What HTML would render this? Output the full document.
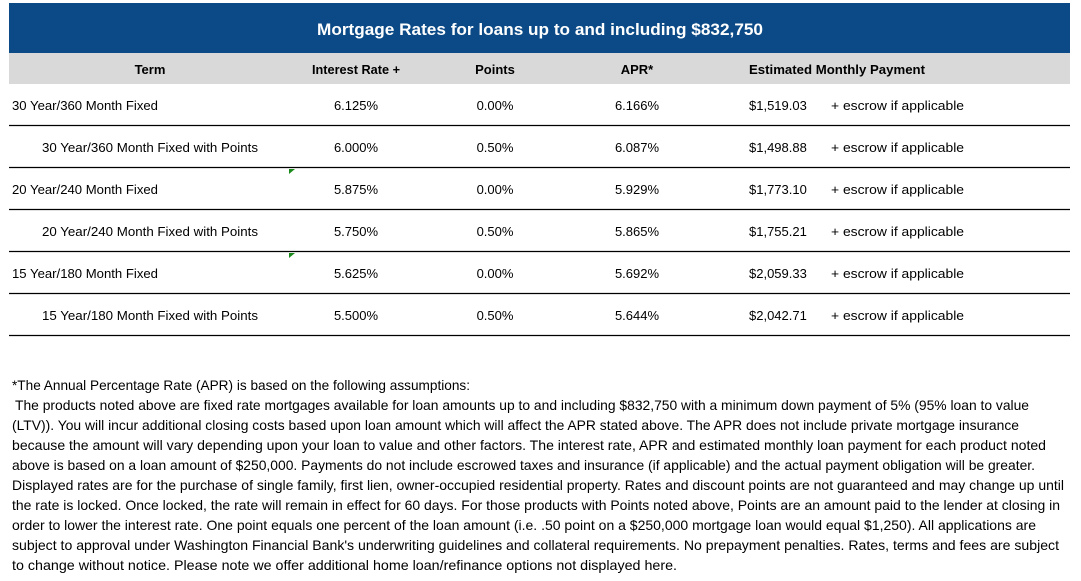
<!DOCTYPE html>
<html><head><meta charset="utf-8"><style>
html,body{margin:0;padding:0;background:#fff;}
svg{display:block;}
text{font-family:"Liberation Sans",sans-serif;fill:#000;}
</style></head><body>
<svg width="1081" height="581" viewBox="0 0 1081 581" xmlns="http://www.w3.org/2000/svg">
<rect x="9" y="3" width="1061" height="50" fill="#0b4a86"/>
<text x="540" y="35" text-anchor="middle" font-size="17" font-weight="bold" style="fill:#fff" textLength="446" lengthAdjust="spacingAndGlyphs">Mortgage Rates for loans up to and including $832,750</text>
<rect x="9" y="53" width="1061" height="31" fill="#d9d9d9"/>
<g font-size="13" font-weight="bold">
<text x="150" y="74" text-anchor="middle">Term</text>
<text x="356" y="74" text-anchor="middle" textLength="88" lengthAdjust="spacingAndGlyphs">Interest Rate +</text>
<text x="495" y="74" text-anchor="middle">Points</text>
<text x="637" y="74" text-anchor="middle">APR*</text>
<text x="749" y="74" textLength="176" lengthAdjust="spacingAndGlyphs">Estimated Monthly Payment</text>
</g>
<g stroke="#000" stroke-width="1.3">
<line x1="9" y1="125.5" x2="1070" y2="125.5"/>
<line x1="9" y1="167.5" x2="1070" y2="167.5"/>
<line x1="9" y1="209.5" x2="1070" y2="209.5"/>
<line x1="9" y1="251.5" x2="1070" y2="251.5"/>
<line x1="9" y1="293.5" x2="1070" y2="293.5"/>
<line x1="9" y1="335.5" x2="1070" y2="335.5"/>
</g>
<polygon points="289,169 295,169 289,174" fill="#1a8a1a"/>
<polygon points="289,253 295,253 289,258" fill="#1a8a1a"/>
<g font-size="13">
<text x="12" y="110" textLength="146" lengthAdjust="spacingAndGlyphs">30 Year/360 Month Fixed</text>
<text x="42" y="152" textLength="216" lengthAdjust="spacingAndGlyphs">30 Year/360 Month Fixed with Points</text>
<text x="12" y="194" textLength="146" lengthAdjust="spacingAndGlyphs">20 Year/240 Month Fixed</text>
<text x="42" y="236" textLength="216" lengthAdjust="spacingAndGlyphs">20 Year/240 Month Fixed with Points</text>
<text x="12" y="278" textLength="146" lengthAdjust="spacingAndGlyphs">15 Year/180 Month Fixed</text>
<text x="42" y="320" textLength="216" lengthAdjust="spacingAndGlyphs">15 Year/180 Month Fixed with Points</text>

<g text-anchor="middle">
<text x="356" y="110">6.125%</text><text x="495" y="110">0.00%</text><text x="637" y="110">6.166%</text>
<text x="356" y="152">6.000%</text><text x="495" y="152">0.50%</text><text x="637" y="152">6.087%</text>
<text x="356" y="194">5.875%</text><text x="495" y="194">0.00%</text><text x="637" y="194">5.929%</text>
<text x="356" y="236">5.750%</text><text x="495" y="236">0.50%</text><text x="637" y="236">5.865%</text>
<text x="356" y="278">5.625%</text><text x="495" y="278">0.00%</text><text x="637" y="278">5.692%</text>
<text x="356" y="320">5.500%</text><text x="495" y="320">0.50%</text><text x="637" y="320">5.644%</text>
</g>
<text x="749" y="110">$1,519.03</text><text x="831" y="110" textLength="133" lengthAdjust="spacingAndGlyphs">+ escrow if applicable</text>
<text x="749" y="152">$1,498.88</text><text x="831" y="152" textLength="133" lengthAdjust="spacingAndGlyphs">+ escrow if applicable</text>
<text x="749" y="194">$1,773.10</text><text x="831" y="194" textLength="133" lengthAdjust="spacingAndGlyphs">+ escrow if applicable</text>
<text x="749" y="236">$1,755.21</text><text x="831" y="236" textLength="133" lengthAdjust="spacingAndGlyphs">+ escrow if applicable</text>
<text x="749" y="278">$2,059.33</text><text x="831" y="278" textLength="133" lengthAdjust="spacingAndGlyphs">+ escrow if applicable</text>
<text x="749" y="320">$2,042.71</text><text x="831" y="320" textLength="133" lengthAdjust="spacingAndGlyphs">+ escrow if applicable</text>
</g>
<g font-size="14">
<text x="12" y="390" textLength="458" lengthAdjust="spacingAndGlyphs">*The Annual Percentage Rate (APR) is based on the following assumptions:</text>
<text x="15" y="410" textLength="1014" lengthAdjust="spacingAndGlyphs">The products noted above are fixed rate mortgages available for loan amounts up to and including $832,750  with a minimum down payment of 5% (95% loan to value</text>
<text x="12" y="430" textLength="1007" lengthAdjust="spacingAndGlyphs">(LTV)).  You will incur additional closing costs based upon loan amount which will affect the APR stated above. The APR does not include private mortgage insurance</text>
<text x="12" y="450" textLength="1034" lengthAdjust="spacingAndGlyphs">because the amount will vary depending upon your loan to value and other factors.   The interest rate, APR and estimated monthly loan payment for each product noted</text>
<text x="12" y="470" textLength="1023" lengthAdjust="spacingAndGlyphs">above is based on a loan amount of $250,000.  Payments do not include escrowed taxes and insurance (if applicable) and the actual payment obligation will be greater.</text>
<text x="12" y="490" textLength="1052" lengthAdjust="spacingAndGlyphs">Displayed rates are for the purchase of single family, first lien, owner-occupied residential property.  Rates and discount points are not guaranteed and may change up until</text>
<text x="12" y="510" textLength="1048" lengthAdjust="spacingAndGlyphs">the rate is locked. Once locked, the rate will remain in effect for 60 days. For those products with Points noted above,  Points are an amount paid to the lender at closing in</text>
<text x="12" y="530" textLength="1024" lengthAdjust="spacingAndGlyphs">order to lower the interest rate.  One point equals one percent of the loan amount (i.e. .50  point on a $250,000 mortgage loan would equal $1,250). All applications are</text>
<text x="12" y="550" textLength="1047" lengthAdjust="spacingAndGlyphs">subject to approval under Washington Financial Bank's underwriting guidelines and collateral requirements.    No prepayment penalties. Rates, terms and fees are subject</text>
<text x="12" y="570" textLength="665" lengthAdjust="spacingAndGlyphs">to change without notice.  Please note we offer additional home loan/refinance options not displayed here.</text>
</g>
</svg>
</body></html>
